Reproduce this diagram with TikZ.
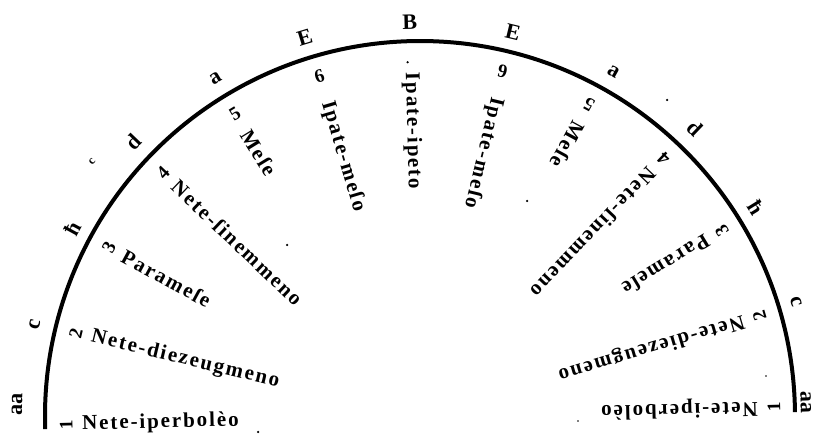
\documentclass[tikz,border=0pt]{standalone}
\usepackage{fontspec}
\setmainfont{Liberation Serif}
\newfontfamily\lab[LetterSpace=9]{Liberation Serif}
\begin{document}
\begin{tikzpicture}[x=1pt,y=1pt,
  namelab/.style={font=\lab\bfseries\fontsize{21}{21}\selectfont, inner sep=0pt, anchor=west},
  numlab/.style={font=\bfseries\fontsize{19}{19}\selectfont, inner sep=0pt},
  outlab/.style={font=\bfseries\fontsize{22}{22}\selectfont, inner sep=0pt},
  speck/.style={circle, fill=black, inner sep=0pt, minimum size=2.5pt}]
\useasboundingbox (0,0) rectangle (820,-438);
\coordinate (C) at (420,-416);
% the arc
\draw[line width=4pt] ([shift={(0.6:375)}]C) arc[start angle=0.6,end angle=182,radius=375];
% radial names
\foreach \k/\t/\r in {0/Nete-iperbolèo/338, 1/Nete-diezeugmeno/338, 2/Parameſe/338,
    3/Nete-ſinemmeno/338, 4/Meſe/334, 5/Ipate-meſo/328, 6/Ipate-ipeto/344,
    7/Ipate-meſo/328, 8/Meſe/334, 9/Nete-ſinemmeno/338, 10/Parameſe/338,
    11/Nete-diezeugmeno/338, 12/Nete-iperbolèo/338} {
  \pgfmathsetmacro\a{1.5+15*\k}
  \node[namelab, rotate=\a+180] (t\k) at ([shift={(\a:\r)}]C) {\t};
}
% numbers, right half (top turned inward)
\foreach \k/\n in {0/1, 1/2, 2/3, 3/4, 4/5, 5/6} {
  \pgfmathsetmacro\a{1.5+15*\k}
  \node[numlab, rotate=\a+90] (n\k) at ([shift={(\a:354)}]C) {\n};
}
% numbers, left half (top turned outward)
\foreach \k/\n in {7/6, 8/5, 9/4, 10/3, 11/2, 12/1} {
  \pgfmathsetmacro\a{1.5+15*\k}
  \node[numlab, rotate=\a-90] (n\k) at ([shift={(\a:354)}]C) {\n};
}
\node[speck] (n6) at ([shift={(92:354)}]C) {};
% outer letters
\foreach \i/\a/\r/\l in {1/2.0/386/aa, 2/16.9/393/c, 3/31.8/396/ħ, 4/46.3/398/d,
    5/60.7/395/a, 6/76.4/395/E, 7/91.5/394/B, 8/106.9/396/E, 9/121.2/395/a,
    10/136.3/397/d, 11/151.6/395/ħ, 12/166.7/396/c, 13/178.4/403/aa} {
  \node[outlab, rotate=\a-90] (o\i) at ([shift={(\a:\r)}]C) {\l};
}
\node[font=\bfseries\fontsize{12}{12}\selectfont, inner sep=0pt, rotate=52] (sc) at ([shift={(142.2:415)}]C) {c};
% specks
\node[speck] (s1) at (258,-432) {};
\node[speck] (s2) at (287,-245) {};
\node[speck] (s3) at (527,-201) {};
\node[speck] (s4) at (667,-100) {};
\node[speck, minimum size=1.8pt] (s5) at (578,-421) {};
\node[speck, minimum size=1.8pt] (s6) at (766,-376) {};
\end{tikzpicture}
\end{document}
